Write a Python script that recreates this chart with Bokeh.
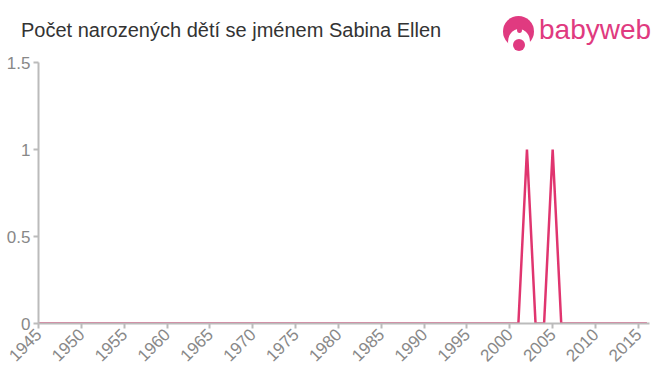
from bokeh.plotting import figure
from bokeh.models import Range1d, FixedTicker, Div
from bokeh.layouts import column
from bokeh.embed import file_html
from bokeh.resources import INLINE

years = list(range(1945, 2017))
counts = [0] * len(years)
counts[years.index(2002)] = 1
counts[years.index(2005)] = 1

x_ticks = list(range(1945, 2016, 5))
y_ticks = [0, 0.5, 1, 1.5]
title_text = "Počet narozených dětí se jménem Sabina Ellen"
logo_text = "babyweb"

pink = "#e03a80"
HEADER_H = 55

header_html = f"""
<div style="position:relative;width:660px;height:{HEADER_H}px;background:white;font-family:'Liberation Sans',Arial,sans-serif;">
  <div style="position:absolute;left:21px;top:20px;line-height:20px;font-size:20px;color:#333333;white-space:nowrap;">{title_text}</div>
  <div style="position:absolute;left:503px;top:16px;width:31px;height:31px;border-radius:50%;background:{pink};"></div>
  <div style="position:absolute;left:508px;top:29px;width:22px;height:26px;border-radius:50%;background:white;"></div>
  <div style="position:absolute;left:516.5px;top:27px;width:5px;height:6px;border-radius:50%;background:{pink};"></div>
  <div style="position:absolute;left:513px;top:39px;width:12px;height:12px;border-radius:50%;background:{pink};"></div>
  <div style="position:absolute;left:539px;top:16px;line-height:28px;font-size:28px;color:{pink};white-space:nowrap;">{logo_text}</div>
</div>
"""
header = Div(text=header_html, width=660, height=HEADER_H, margin=(0, 0, 0, 0))

p = figure(width=660, height=375 - HEADER_H, output_backend="svg", toolbar_location=None,
           x_range=Range1d(1945, 2016.3), y_range=Range1d(0, 1.5),
           min_border_left=38, min_border_right=11, min_border_top=7, min_border_bottom=52,
           margin=(0, 0, 0, 0))
p.outline_line_color = None
p.grid.visible = False
p.background_fill_color = "white"
p.border_fill_color = "white"

p.line(years, counts, line_color="#e0356f", line_width=2.5)

for ax in (p.xaxis[0], p.yaxis[0]):
    ax.axis_line_color = "#bbbbbb"
    ax.axis_line_width = 2
    ax.major_tick_line_color = "#bbbbbb"
    ax.major_tick_line_width = 2
    ax.major_tick_out = 5
    ax.major_tick_in = 0
    ax.minor_tick_line_color = None
    ax.major_label_text_color = "#888888"
    ax.major_label_text_font = "Liberation Sans"
    ax.major_label_text_font_size = "17px"
    ax.major_label_standoff = 3

p.xaxis.ticker = FixedTicker(ticks=x_ticks)
p.yaxis.ticker = FixedTicker(ticks=y_ticks)
p.yaxis.major_label_overrides = {0: "0", 0.5: "0.5", 1: "1", 1.5: "1.5"}
p.xaxis.major_label_orientation = 0.785

layout = column(header, p, spacing=0, margin=(0, 0, 0, 0))

open("out.html", "w").write(file_html(layout, INLINE))
